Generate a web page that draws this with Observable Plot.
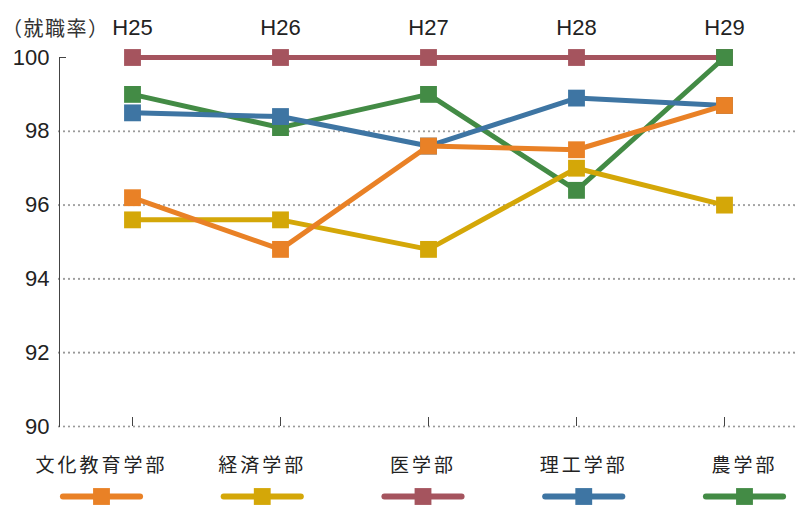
<!DOCTYPE html>
<html><head><meta charset="utf-8">
<script src="https://cdn.jsdelivr.net/npm/d3@7"></script>
<script src="https://cdn.jsdelivr.net/npm/@observablehq/plot@0.6"></script>
<style>
body{margin:0;background:#fff;}
#chart svg{display:block;}
#chart{position:relative;width:795px;height:505px;}
#ylabel{position:absolute;left:2px;top:13px;font:20px "Noto Sans CJK JP",sans-serif;color:#333;letter-spacing:1.5px;}
</style></head>
<body><div id="chart"><div id="ylabel">（就職率）</div></div>
<script>
const years = ["H25","H26","H27","H28","H29"];
const departments = ["文化教育学部","経済学部","医学部","理工学部","農学部"];
const colors = ["#E98126","#D4A708","#A5545E","#3E75A3","#438B45"];
const bunka   = [96.2, 94.8, 97.6, 97.5, 98.7];
const keizai  = [95.6, 95.6, 94.8, 97.0, 96.0];
const igaku   = [100, 100, 100, 100, 100];
const riko    = [98.5, 98.4, 97.6, 98.9, 98.7];
const nogaku  = [99.0, 98.1, 99.0, 96.4, 100];
const yTicks = [90, 92, 94, 96, 98, 100];
const gridTicks = [90, 92, 94, 96, 98];

const series = [bunka, keizai, igaku, riko, nogaku];
const rows = [];
series.forEach((vals, i) => vals.forEach((v, j) => rows.push({dept: departments[i], year: years[j], value: v})));
const drawOrder = ["医学部","農学部","理工学部","経済学部","文化教育学部"];

const marks = [
  Plot.ruleY(gridTicks, {stroke:"#999", strokeWidth:2.2, strokeDasharray:"0,5", strokeLinecap:"round"}),
  Plot.frame({anchor:"left", stroke:"#444"}),
  Plot.ruleY([100], {stroke:"#444", insetRight: 729}),
  Plot.ruleX(years, {x: d => d, y1: 90, y2: 90, insetTop: -9, stroke:"#444"}),
  Plot.text(yTicks, {y: d => d, text: d => String(d), frameAnchor:"left", textAnchor:"end", lineAnchor:"middle", dx:-10, fontSize:22, fill:"#222"}),
  Plot.text(years, {x: d => d, text: d => d, frameAnchor:"top", lineAnchor:"middle", dy:-30, fontSize:22, fill:"#222"})
];
for (const dname of drawOrder) {
  const d = rows.filter(r => r.dept === dname);
  const c = colors[departments.indexOf(dname)];
  marks.push(Plot.line(d, {x:"year", y:"value", stroke:c, strokeWidth:5}));
  marks.push(Plot.dot(d, {x:"year", y:"value", symbol:"square", r:9.5, fill:c, stroke:"none"}));
}

const main = Plot.plot({
  width: 795, height: 440,
  marginTop: 57, marginBottom: 14, marginLeft: 59, marginRight: 0,
  style: {fontFamily: "'Liberation Sans', Arial, sans-serif", background:"#fff"},
  x: {type:"point", domain: years, range:[132, 724], padding: 0, axis: null},
  y: {domain:[90,100], axis: null},
  marks
});

const legendIdx = departments.map((d, i) => ({i, name: d, color: colors[i]}));
const legend = Plot.plot({
  width: 795, height: 65,
  marginTop: 0, marginBottom: 0, marginLeft: 0, marginRight: 0,
  style: {fontFamily: "'Noto Sans CJK JP', sans-serif", background:"#fff"},
  x: {domain:[0,4], range:[101,744], axis:null},
  y: {domain:[0,1], range:[25,56], axis:null},
  marks: [
    Plot.text(legendIdx, {x:"i", y: () => 0, text:"name", fontSize:19, fill:"#222"}),
    Plot.link(legendIdx, {x1: d => d.i - 0.24, x2: d => d.i + 0.24, y1: () => 1, y2: () => 1, stroke: d => d.color, strokeWidth:6, strokeLinecap:"round"}),
    Plot.dot(legendIdx, {x:"i", y: () => 1, symbol:"square", r:9.5, fill: d => d.color, stroke:"none"})
  ]
});
legend.querySelectorAll("text").forEach(t => t.setAttribute("letter-spacing","3"));
document.getElementById("chart").append(main, legend);
</script></body></html>
